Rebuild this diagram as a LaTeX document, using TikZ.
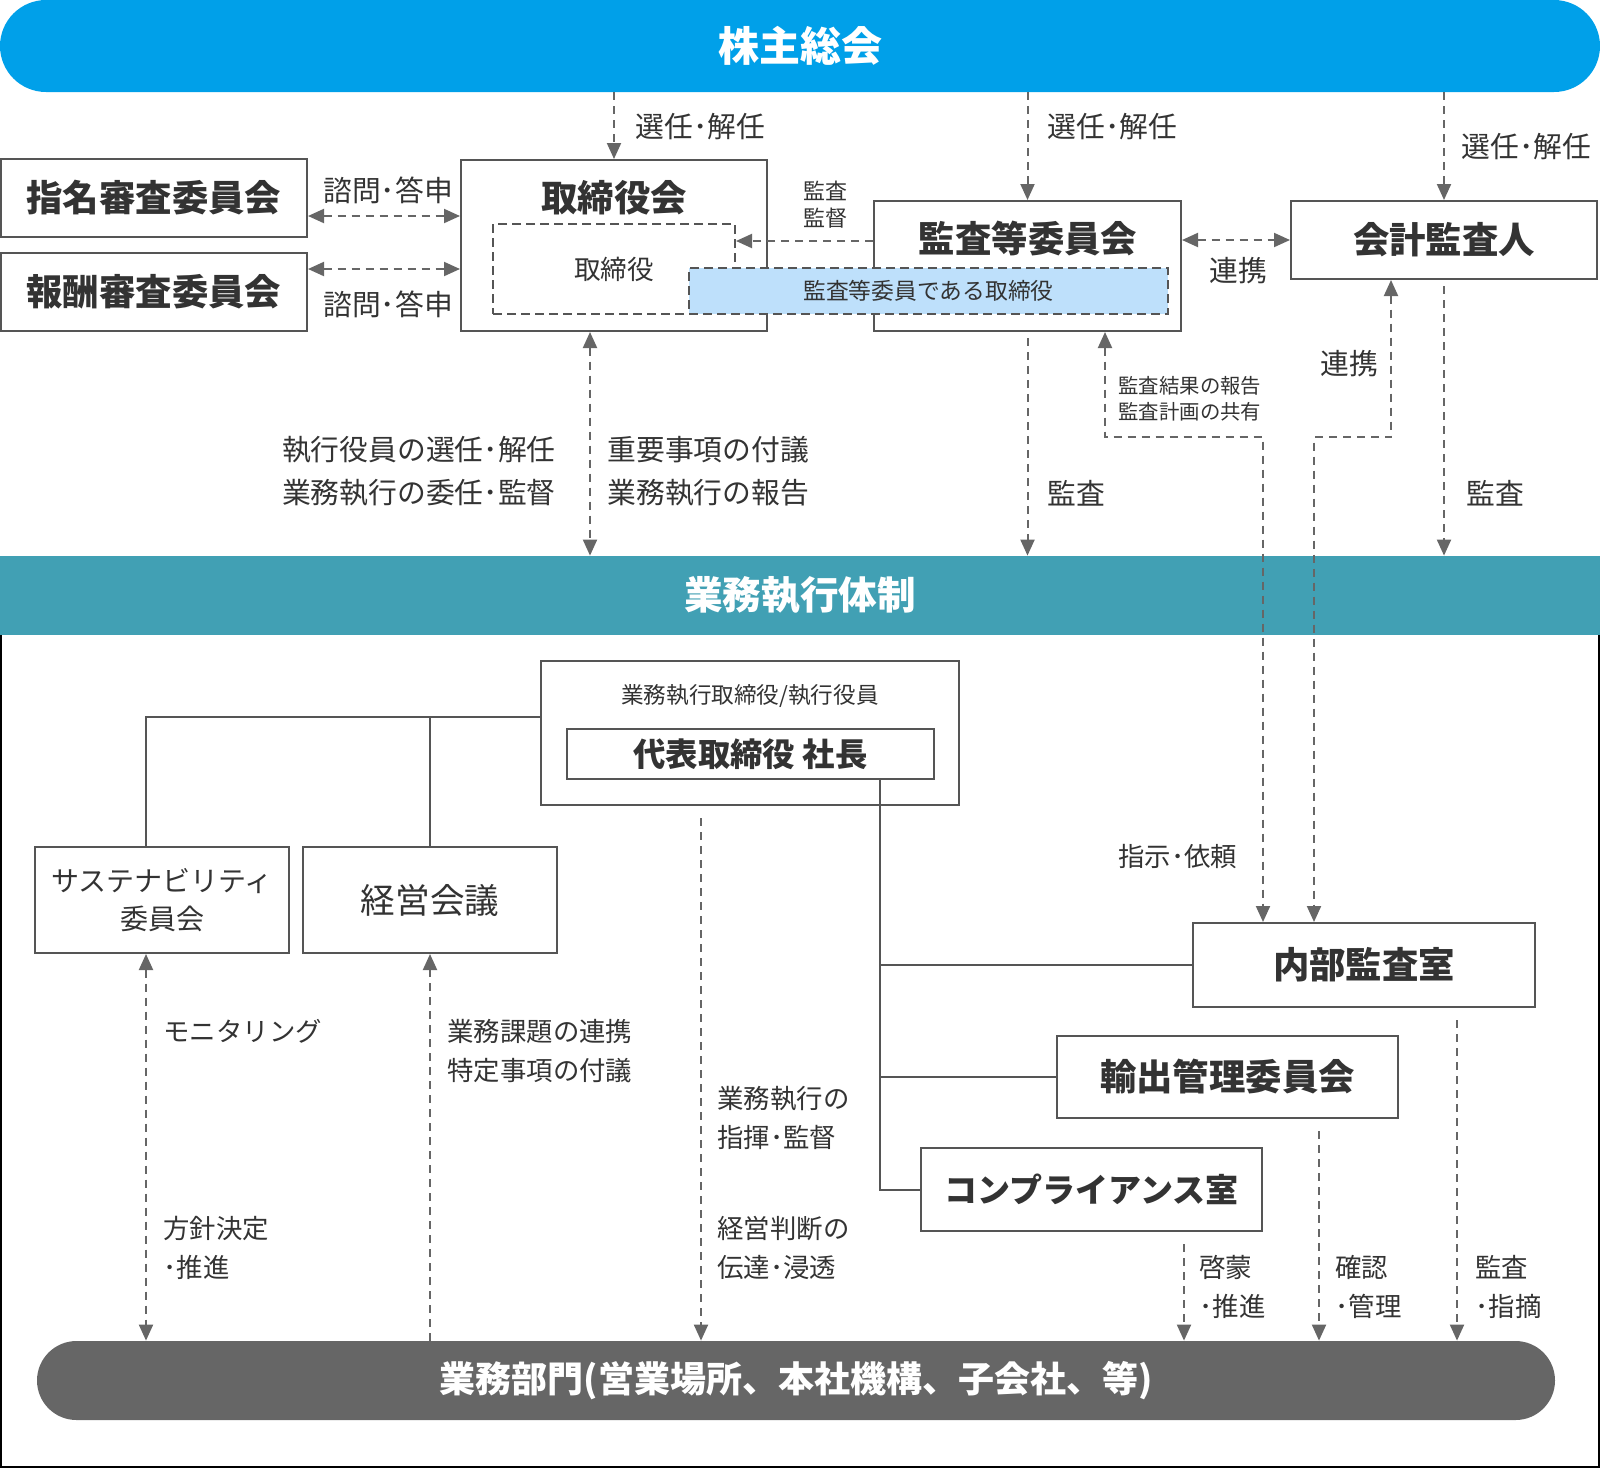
\documentclass[tikz,border=0pt]{standalone}
\usepackage{fontspec}
\setmainfont{Noto Sans CJK JP}
\usepackage{tikz}
\usetikzlibrary{arrows.meta,positioning,calc}
\usepackage{xcolor}
\definecolor{agmblue}{HTML}{00A0E9}
\definecolor{exteal}{HTML}{41A0B4}
\definecolor{acdblue}{HTML}{BEE0FB}
\definecolor{deptgray}{HTML}{666666}
\definecolor{linegray}{HTML}{666666}
\definecolor{boxgray}{HTML}{555555}
\definecolor{txt}{HTML}{333333}

\begin{document}
\begin{tikzpicture}[
    x=0.5pt, y=-0.5pt,
    >={Triangle[width=7pt,length=8pt]},
    pill/.style={text=white, inner sep=0pt, font=\bfseries\fontsize{19.3}{23}\selectfont},
    orgbox/.style={draw=boxgray, line width=1pt, fill=white, text=txt, inner sep=0pt},
    dbox/.style={draw=boxgray, line width=1pt, dash pattern=on 4.5pt off 2.5pt, text=txt, inner sep=0pt},
    head/.style={text=txt, font=\bfseries\fontsize{18.2}{22}\selectfont},
    lbl/.style={text=txt, inner sep=0pt, align=left, font=\fontsize{14.4}{21.5}\selectfont},
    lowlbl/.style={text=txt, inner sep=0pt, align=left, font=\fontsize{13.2}{19.5}\selectfont},
    tiny/.style={text=txt, inner sep=0pt, align=left, font=\fontsize{10.2}{13}\selectfont},
    link/.style={draw=linegray, line width=1pt, dash pattern=on 4pt off 3pt},
    tree/.style={draw=boxgray, line width=1pt}
]
\useasboundingbox (0,0) rectangle (1600,1468);

% Bands
\node[pill, fill=agmblue, minimum width=800pt, minimum height=46pt, rounded corners=23pt,
      font=\bfseries\fontsize{20.5}{24}\selectfont] (agm) at (800,46) {株主総会};
\node[pill, fill=exteal, minimum width=800pt, minimum height=39.5pt] (exec) at (800,595.5) {業務執行体制};
\node[pill, fill=deptgray, minimum width=759pt, minimum height=39.5pt, rounded corners=19.75pt,
      font=\bfseries\fontsize{18}{22}\selectfont] (dept) at (796,1380.5) {業務部門(営業場所、本社機構、子会社、等)};

% Frame
\draw[black, line width=1pt] (1,635) -- (1,1467) -- (1599,1467) -- (1599,635);

% Board level
\node[orgbox, head, minimum width=153pt, minimum height=39pt] (nom) at (154,198) {指名審査委員会};
\node[orgbox, head, minimum width=153pt, minimum height=39pt] (rem) at (154,292) {報酬審査委員会};
\node[orgbox, minimum width=153pt, minimum height=85.5pt] (board) at (614,245.5) {};
\node[head] (boardt) at (614,198) {取締役会};
\node[orgbox, minimum width=153.5pt, minimum height=65pt] (acm) at (1027.5,266) {};
\node[head] (acmt) at (1028,239) {監査等委員会};
\node[orgbox, head, minimum width=153pt, minimum height=39pt] (ca) at (1444,240) {会計監査人};
\node[dbox, minimum width=121pt, minimum height=45pt, font=\fontsize{13.3}{16}\selectfont] (dir) at (614,269) {取締役};
\node[dbox, fill=acdblue, minimum width=239.5pt, minimum height=23pt, font=\fontsize{11.4}{14}\selectfont] (acd) at (928.5,291) {監査等委員である取締役};

% Helper coordinates
\coordinate (ya) at (0,216);
\coordinate (yb) at (0,269);
\coordinate (yc) at (0,241);
\coordinate (yd) at (0,437);
\coordinate (ye) at (0,717);
\coordinate (xa) at (590,0);
\coordinate (xb) at (1105,0);
\coordinate (xc) at (1263,0);
\coordinate (xd) at (1314,0);
\coordinate (xe) at (1391,0);
\coordinate (xf) at (146,0);
\coordinate (xg) at (701,0);
\coordinate (xh) at (1184,0);
\coordinate (xi) at (1319,0);
\coordinate (xj) at (1457,0);
\coordinate (xk) at (880,0);

% Upper connectors
\draw[link,->] (agm.south -| board.north) -- (board.north);
\draw[link,->] (agm.south -| acm.north) -- (acm.north);
\draw[link,->] (agm.south -| ca.north) -- (ca.north);
\draw[link,<->] (nom.east |- ya) -- (board.west |- ya);
\draw[link,<->] (rem.east |- yb) -- (board.west |- yb);
\draw[link,->] (acm.west |- yc) -- (dir.east |- yc);
\draw[link,<->] (acm.east |- ca.west) -- (ca.west);
\draw[link,<->] (board.south -| xa) -- (exec.north -| xa);
\draw[link,->, shorten <=3pt] (acm.south) -- (exec.north -| acm.south);
\draw[link,->, shorten <=3pt] (ca.south) -- (exec.north -| ca.south);

% Upper labels
\node[lbl, anchor=west] (sel1) at (635,127) {選任･解任};
\node[lbl, anchor=west] (sel2) at (1047,127) {選任･解任};
\node[lbl, anchor=west] (sel3) at (1461,147) {選任･解任};
\node[lbl] (cons1) at (388,190) {諮問･答申};
\node[lbl] (cons2) at (388,304) {諮問･答申};
\node[text=txt, inner sep=0pt, align=center, font=\fontsize{11}{13.5}\selectfont] (sup) at (825,205) {監査\\監督};
\node[lbl] (coop1) at (1238,271) {連携};
\node[lbl, anchor=east] (down1) at (556,471) {執行役員の選任･解任\\業務執行の委任･監督};
\node[lbl, anchor=west] (up1) at (607,471) {重要事項の付議\\業務執行の報告};
\node[lbl, anchor=west] (aud1) at (1047,493) {監査};
\node[lbl, anchor=west] (aud2) at (1466,493) {監査};
\node[tiny, anchor=west] (rep) at (1118,399) {監査結果の報告\\監査計画の共有};
\node[lbl] (coop2) at (1349,364) {連携};

% Executive level
\node[orgbox, minimum width=209pt, minimum height=72pt] (exo) at (750,733) {};
\node[text=txt, inner sep=0pt, font=\fontsize{11.3}{14}\selectfont] (exot) at (750,696) {業務執行取締役/執行役員};
\node[orgbox, minimum width=183.5pt, minimum height=25pt, font=\bfseries\fontsize{16.2}{20}\selectfont] (pres) at (750.5,754) {代表取締役 社長};
\node[orgbox, minimum width=127pt, minimum height=53pt, align=center, font=\fontsize{14}{19}\selectfont] (sus) at (162,900) {サステナビリティ\\委員会};
\node[orgbox, minimum width=127pt, minimum height=53pt, font=\fontsize{17.3}{21}\selectfont] (mtg) at (430,900) {経営会議};
\node[orgbox, head, minimum width=171pt, minimum height=42pt] (ia) at (1364,965) {内部監査室};
\node[orgbox, head, minimum width=170.5pt, minimum height=41pt] (exc) at (1227.5,1077) {輸出管理委員会};
\node[orgbox, head, minimum width=170.5pt, minimum height=41.5pt, font=\bfseries\fontsize{16.5}{20}\selectfont] (comp) at (1091.5,1189.5) {コンプライアンス室};

% Audit paths to internal audit
\draw[link,<->] (acm.south -| xb) |- (yd -| xc) -- (ia.north -| xc);
\draw[link,<->] (ca.south -| xe) |- (yd -| xd) -- (ia.north -| xd);

% Tree
\draw[tree] (exo.west |- ye) -| (sus.north -| xf);
\draw[tree] (mtg.north) -- (mtg.north |- ye);
\draw[tree] (pres.south -| xk) |- (comp.west);
\draw[tree] (xk |- ia.west) -- (ia.west);
\draw[tree] (xk |- exc.west) -- (exc.west);

% Lower connectors
\draw[link,<->] (sus.south -| xf) -- (dept.north -| xf);
\draw[link,->] (dept.north -| mtg.north) -- (mtg.south);
\draw[link,->, shorten <=6pt] (exo.south -| xg) -- (dept.north -| xg);
\draw[link,->, shorten <=6pt] (comp.south -| xh) -- (dept.north -| xh);
\draw[link,->, shorten <=6pt] (exc.south -| xi) -- (dept.north -| xi);
\draw[link,->, shorten <=6pt] (ia.south -| xj) -- (dept.north -| xj);

% Lower labels
\node[lowlbl, anchor=west] (instr) at (1118,857) {指示･依頼};
\node[lowlbl, anchor=west] (mon) at (163,1031) {モニタリング};
\node[lowlbl, anchor=west] (pol) at (163,1248) {方針決定\\･推進};
\node[lowlbl, anchor=west] (iss) at (447,1051.5) {業務課題の連携\\特定事項の付議};
\node[lowlbl, anchor=west] (cmd) at (717,1117.5) {業務執行の\\指揮･監督};
\node[lowlbl, anchor=west] (com) at (717,1247.5) {経営判断の\\伝達･浸透};
\node[lowlbl, anchor=west] (edu) at (1199,1287) {啓蒙\\･推進};
\node[lowlbl, anchor=west] (chk) at (1335,1287) {確認\\･管理};
\node[lowlbl, anchor=west] (ind) at (1475,1287) {監査\\･指摘};

\end{tikzpicture}
\end{document}
